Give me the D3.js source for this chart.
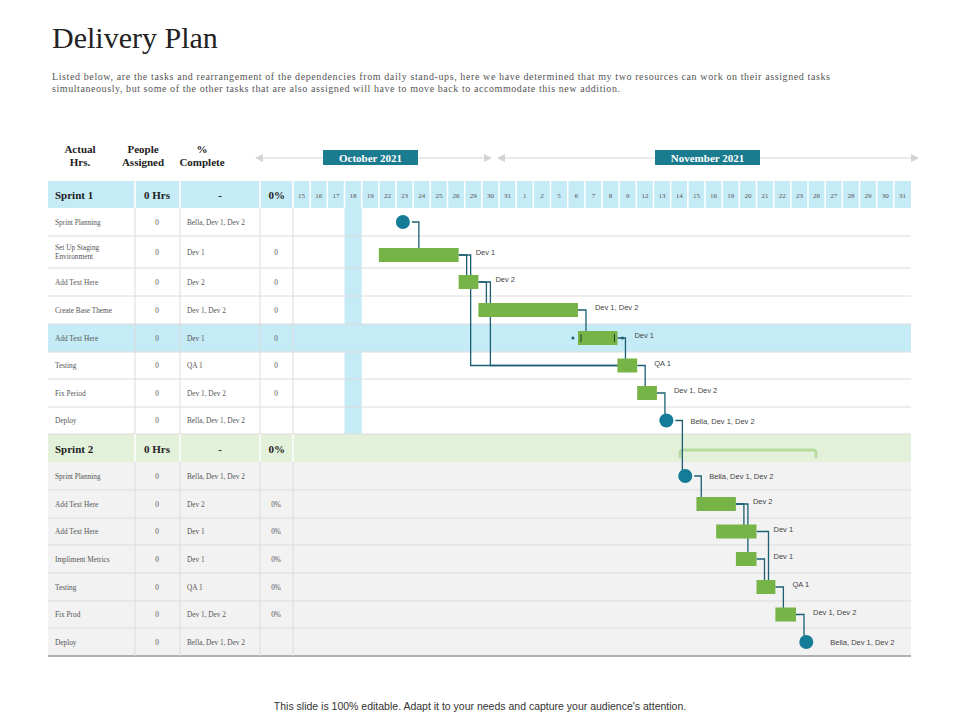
<!DOCTYPE html>
<html><head><meta charset="utf-8">
<script src="https://cdn.jsdelivr.net/npm/d3@7"></script>
<style>body{margin:0;background:#fff}</style>
</head><body>
<svg id="chart" width="960" height="720"></svg>
<script>
// ---- data ----
let octDays = [15,16,17,18,19,22,23,24,25,26,29,30,31];
let novDays = [1,2,5,6,7,8,9,12,13,14,15,16,19,20,21,22,23,26,27,28,29,30,31];
let tasks1 = ['Sprint  Planning','Set Up Staging|Environment','Add Text Here','Create Base Theme','Add Text Here','Testing','Fix Period','Deploy'];
let tasks2 = ['Sprint  Planning','Add Text Here','Add Text Here','Impliment Metrics','Testing','Fix Prod','Deploy'];
let people1 = ['Bella, Dev 1, Dev 2','Dev 1','Dev 2','Dev 1, Dev 2','Dev 1','QA 1','Dev 1, Dev 2','Bella, Dev 1, Dev 2'];
let people2 = ['Bella, Dev 1, Dev 2','Dev 2','Dev 1','Dev 1','QA 1','Dev 1, Dev 2','Bella, Dev 1, Dev 2'];
let pct1 = ['','0','0','0','0','0','0',''];
let pct2 = ['','0%','0%','0%','0%','0%',''];
// start / end in date-column units (milestones: end == null)
let start1 = [6.4, 5.0, 9.65, 10.8, 16.6, 18.9, 20.05, 21.75];
let end1   = [null, 9.65, 10.8, 16.6, 18.9, 20.05, 21.2, null];
let start2 = [22.85, 23.5, 24.65, 25.8, 27.0, 28.1, 29.9];
let end2   = [null, 25.8, 27.0, 27.0, 28.1, 29.3, null];
let deps = [[0,1],[1,2],[2,3],[3,4],[1,5],[2,5],[4,5],[5,6],[6,7],[7,8],
            [8,9],[9,10],[9,11],[10,12],[11,12],[12,13],[13,14]];

// ---- layout ----
let svg = d3.select('#chart');
let serif = 'Liberation Serif, DejaVu Serif, serif';
let sans = 'Liberation Sans, Arial, sans-serif';
let days = octDays.map(d => 'o' + d).concat(novDays.map(d => 'n' + d));
let x = d3.scaleLinear().domain([0, days.length]).range([293, 911]);
let band = x(1) - x(0);
let left = 48, right = 911;
let cols = [48, 135, 180, 260, 293];

svg.append('text').attr('x', 52).attr('y', 48).text('Delivery Plan')
   .attr('font-family', serif).attr('font-size', 30).attr('fill', '#222');
svg.append('text').attr('font-family', serif).attr('font-size', 10).attr('fill', '#555')
   .selectAll('tspan').data([
     ['Listed below, are the tasks and rearrangement of the dependencies from daily stand-ups, here we have determined that my two resources can work on their assigned tasks', 778],
     ['simultaneously, but some of the other tasks that are also assigned will have to move back to accommodate this new addition.', 568]])
   .join('tspan').attr('x', 52).attr('y', (d, i) => 80 + i * 12).attr('textLength', d => d[1]).text(d => d[0]);
svg.append('text').attr('x', 480).attr('y', 710).attr('text-anchor', 'middle')
   .attr('font-family', sans).attr('font-size', 10.5).attr('fill', '#333')
   .text("This slide is 100% editable.  Adapt it to your needs and capture your audience's attention.");

// column headers
[['Actual', 'Hrs.', 80], ['People', 'Assigned', 143], ['%', 'Complete', 202]].forEach(h => {
  let t = svg.append('text').attr('text-anchor', 'middle').attr('font-family', serif)
     .attr('font-size', 11).attr('font-weight', 'bold').attr('fill', '#222');
  t.append('tspan').attr('x', h[2]).attr('y', 153).text(h[0]);
  t.append('tspan').attr('x', h[2]).attr('y', 166).text(h[1]);
});

// month banners
function month(label, x0, x1, bx0, bx1) {
  let g = svg.append('g');
  g.append('line').attr('x1', x0 + 6).attr('x2', x1 - 6).attr('y1', 158).attr('y2', 158).attr('stroke', '#d4d4d4');
  g.append('path').attr('d', `M${x0},158 l8,-4 v8z M${x1},158 l-8,-4 v8z`).attr('fill', '#d4d4d4');
  g.append('rect').attr('x', bx0).attr('y', 150).attr('width', bx1 - bx0).attr('height', 15).attr('fill', '#1b7b8f');
  g.append('text').attr('x', (bx0 + bx1) / 2).attr('y', 161.5).attr('text-anchor', 'middle')
   .attr('font-family', serif).attr('font-weight', 'bold').attr('font-size', 11).attr('fill', '#fff').text(label);
}
month('October 2021', 255, 492, 323, 418);
month('November 2021', 497, 919, 655, 760);

// rows
let rows1 = [236, 268, 296, 324, 352, 379, 407, 434];
let rows2 = [490, 518, 545, 573, 601, 628, 656];
let top1 = 208, top2 = 462;
function rowSpans(top, bottoms) { return bottoms.map((b, i) => [i ? bottoms[i - 1] : top, b]); }
let spans1 = rowSpans(top1, rows1), spans2 = rowSpans(top2, rows2);

// backgrounds
svg.append('rect').attr('x', left).attr('y', 181).attr('width', right - left).attr('height', 27).attr('fill', '#c5ebf6');
svg.append('rect').attr('x', left).attr('y', 434).attr('width', right - left).attr('height', 28).attr('fill', '#e3f0da');
svg.append('rect').attr('x', left).attr('y', top2).attr('width', right - left).attr('height', 656 - top2).attr('fill', '#f2f2f2');
svg.append('rect').attr('x', left).attr('y', spans1[4][0]).attr('width', right - left).attr('height', spans1[4][1] - spans1[4][0]).attr('fill', '#c5ebf6');
svg.append('rect').attr('x', x(3)).attr('y', top1).attr('width', band).attr('height', 434 - top1).attr('fill', '#c5ebf6');

// date cells
svg.selectAll('.dcell').data(days).join('line')
   .attr('x1', (d, i) => x(i)).attr('x2', (d, i) => x(i)).attr('y1', 181).attr('y2', 208)
   .attr('stroke', '#fff').attr('stroke-width', 1.5);
svg.selectAll('.dlab').data(days).join('text')
   .attr('x', (d, i) => x(i + 0.5)).attr('y', 197.5).attr('text-anchor', 'middle')
   .attr('font-family', serif).attr('font-size', 7).attr('fill', '#555').text(d => d.slice(1));

// grid lines
let gridYs = rows1.concat(rows2);
svg.selectAll('.hl').data(gridYs).join('line')
   .attr('x1', left).attr('x2', right).attr('y1', d => d).attr('y2', d => d)
   .attr('stroke', (d, i) => i === gridYs.length - 1 ? '#999' : '#dcdcdc').attr('stroke-width', (d, i) => i === gridYs.length - 1 ? 1.5 : 1);
[[181, 434], [434, 656]].forEach(r => {
  cols.slice(1).forEach(c => svg.append('line').attr('x1', c).attr('x2', c).attr('y1', r[0]).attr('y2', r[1]).attr('stroke', '#dcdcdc'));
});
cols.slice(1).forEach(c => {
  svg.append('line').attr('x1', c).attr('x2', c).attr('y1', 181).attr('y2', 208).attr('stroke', '#fff').attr('stroke-width', 1.5);
  svg.append('line').attr('x1', c).attr('x2', c).attr('y1', 434).attr('y2', 462).attr('stroke', '#fff').attr('stroke-width', 1.5);
});

// sprint headers
[['Sprint 1', 195], ['Sprint 2', 449]].forEach(s => {
  let g = svg.append('g').attr('font-family', serif).attr('font-weight', 'bold').attr('font-size', 11).attr('fill', '#222');
  g.append('text').attr('x', 55).attr('y', s[1] + 4).text(s[0]);
  g.append('text').attr('x', 157).attr('y', s[1] + 4).attr('text-anchor', 'middle').text('0 Hrs');
  g.append('text').attr('x', 220).attr('y', s[1] + 4).attr('text-anchor', 'middle').text('-');
  g.append('text').attr('x', 285).attr('y', s[1] + 4).attr('text-anchor', 'end').text('0%');
});

// table text
function tableRows(spans, tasks, people, pct) {
  spans.forEach((s, i) => {
    let cy = (s[0] + s[1]) / 2 + 2.5;
    let g = svg.append('g').attr('font-family', serif).attr('font-size', 7.3).attr('fill', '#555');
    let parts = tasks[i].split('|');
    parts.forEach((p, k) => g.append('text').attr('x', 55).attr('y', cy + (k - (parts.length - 1) / 2) * 9).text(p));
    g.append('text').attr('x', 157).attr('y', cy).attr('text-anchor', 'middle').text('0');
    g.append('text').attr('x', 187).attr('y', cy).text(people[i]);
    g.append('text').attr('x', 276).attr('y', cy).attr('text-anchor', 'middle').text(pct[i]);
  });
}
tableRows(spans1, tasks1, people1, pct1);
tableRows(spans2, tasks2, people2, pct2);

// gantt items
let items = [];
spans1.concat(spans2).forEach((s, i) => {
  let first = i < spans1.length;
  let k = first ? i : i - spans1.length;
  let st = first ? start1[k] : start2[k], en = first ? end1[k] : end2[k];
  let lab = first ? people1[k] : people2[k];
  if (i === 0) lab = '';
  let cy = (s[0] + s[1]) / 2;
  if (first && k === 1) cy = 255;
  items.push({ s: x(st), e: en == null ? x(st) + 9 : x(en), mile: en == null, cx: x(st), cy: cy, lab: lab });
});

// bracket over sprint 2
svg.append('path').attr('d', `M680,458 v-5 q0,-3 3,-3 H813 q3,0 3,3 v5`)
   .attr('fill', 'none').attr('stroke', '#b7dca0').attr('stroke-width', 3);

// connectors
let col = '#1d5f73';
svg.selectAll('.dep').data(deps).join('path')
   .attr('d', d => {
     let a = items[d[0]], b = items[d[1]];
     let xx = a.e + 8 + (d[1] - d[0] > 1 ? 4 : 0);
     if (a.mile) xx = a.cx + 16;
     return `M${a.e},${a.cy} H${xx} V${b.cy} H${b.s + 2}`;
   })
   .attr('fill', 'none').attr('stroke', col).attr('stroke-width', 1.3);

items.forEach(it => {
  if (it.mile) {
    svg.append('circle').attr('cx', it.cx).attr('cy', it.cy).attr('r', 7).attr('fill', '#157c97');
  } else {
    svg.append('rect').attr('x', it.s).attr('y', it.cy - 7).attr('width', it.e - it.s).attr('height', 14).attr('fill', '#76b447');
  }
  svg.append('text').attr('x', it.mile ? it.cx + 24 : it.e + 17).attr('y', it.cy - (it.mile ? 0 : 3) + 3)
     .attr('font-family', sans).attr('font-size', 7.5).attr('fill', '#444').text(it.lab);
});
// markers on highlighted bar
let hb = items[4];
svg.append('circle').attr('cx', hb.s - 5).attr('cy', hb.cy).attr('r', 1.5).attr('fill', col);
svg.append('circle').attr('cx', hb.e + 5).attr('cy', hb.cy).attr('r', 1.5).attr('fill', col);
[hb.s + 3, hb.e - 3].forEach(v => svg.append('line').attr('x1', v).attr('x2', v).attr('y1', hb.cy - 4).attr('y2', hb.cy + 4).attr('stroke', '#1d3d20').attr('stroke-width', 1));
</script>
</body></html>
